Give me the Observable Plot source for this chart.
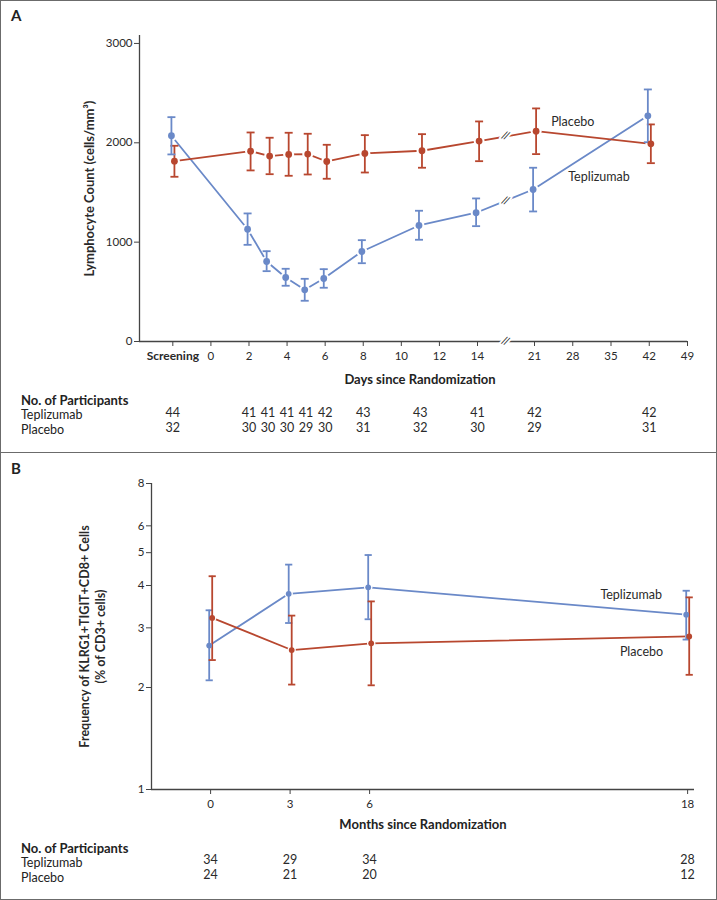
<!DOCTYPE html>
<html><head><meta charset="utf-8">
<script src="https://cdn.jsdelivr.net/npm/d3@7"></script>
<script src="https://cdn.jsdelivr.net/npm/@observablehq/plot@0.6"></script>
<style>
body{margin:0;background:#fff;font-family:Lato,"Open Sans",sans-serif;color:#222}
#wrap{position:relative;width:717px;height:900px;overflow:hidden}
.box{position:absolute;left:0;width:717px;box-sizing:border-box;border:1.5px solid #6b6b6b}
#boxA{top:0;height:453px}
#boxB{top:451.5px;height:448px}
.t{position:absolute;line-height:1;white-space:nowrap}
.tag{font-weight:bold;font-size:15px}
.hdr{font-weight:bold;font-size:13px}
.row{font-size:12.5px}
.xt{font-weight:bold;font-size:13px;transform:translateX(-50%)}
.plot{position:absolute;left:0}
</style>
</head><body>
<div id="wrap">
  <div class="box" id="boxA"></div>
  <div class="box" id="boxB"></div>
  <div class="t tag" style="left:11px;top:7.5px">A</div>
  <div class="t tag" style="left:11px;top:460.5px">B</div>
  <div class="t xt" style="left:420px;top:373px">Days since Randomization</div>
  <div class="t hdr" style="left:21px;top:394px">No. of Participants</div>
  <div class="t row" style="left:21px;top:409px">Teplizumab</div>
  <div class="t row" style="left:21px;top:424px">Placebo</div>
  <div class="t xt" style="left:423px;top:818px">Months since Randomization</div>
  <div class="t hdr" style="left:21px;top:842px">No. of Participants</div>
  <div class="t row" style="left:21px;top:856.5px">Teplizumab</div>
  <div class="t row" style="left:21px;top:871.5px">Placebo</div>
  <div id="plotA" class="plot" style="top:0"></div>
  <div id="plotB" class="plot" style="top:452px"></div>
</div>
<script>
// ---------- Panel A data ----------
const visitsA = ["Screening", "2", "3", "4", "5", "6", "8", "11", "14", "21", "42"];
const tepMeanA  = [2071, 1130, 805, 644, 520, 634, 906, 1168, 1296, 1530, 2272];
const tepLowA   = [1883, 973, 708, 561, 410, 541, 788, 1024, 1161, 1309, 2006];
const tepHighA  = [2258, 1289, 909, 732, 631, 728, 1020, 1316, 1440, 1749, 2537];
const plaMeanA  = [1815, 1916, 1866, 1883, 1886, 1812, 1893, 1920, 2017, 2117, 1990];
const plaLowA   = [1658, 1722, 1684, 1668, 1681, 1638, 1701, 1749, 1815, 1886, 1795];
const plaHighA  = [1970, 2104, 2051, 2101, 2091, 1980, 2077, 2087, 2215, 2346, 2185];
const tepNA = [44, 41, 41, 41, 41, 42, 43, 43, 41, 42, 42];
const plaNA = [32, 30, 30, 30, 29, 30, 31, 32, 30, 29, 31];
const xTicksA = [0, 2, 4, 6, 8, 10, 12, 14, 21, 28, 35, 42, 49];
const yTicksA = [0, 1000, 2000, 3000];
const seriesNames = ["Teplizumab", "Placebo"];
const labelXA = [32.8, 28];
const labelYA = [1651, 2205];

// ---------- Panel B data ----------
const monthsB = [0, 3, 6, 18];
const tepMeanB = [2.66, 3.78, 3.95, 3.28];
const tepLowB  = [2.10, 3.10, 3.18, 2.77];
const tepHighB = [3.38, 4.61, 4.92, 3.86];
const plaMeanB = [3.21, 2.58, 2.70, 2.83];
const plaLowB  = [2.41, 2.04, 2.03, 2.18];
const plaHighB = [4.26, 3.26, 3.59, 3.69];
const tepNB = [34, 29, 34, 28];
const plaNB = [24, 21, 20, 12];
const yTicksB = [1, 2, 3, 4, 5, 6, 8];
const labelXB = [15.87, 16.26];
const labelYB = [3.74, 2.54];

// ---------- styling ----------
const colors = {Teplizumab: "#6a89c8", Placebo: "#b8472f"};
const offsets = {Teplizumab: -1.4, Placebo: 1.6};
const ink = "#2a2a2a";
const axisInk = "#444";
const font = "Lato, 'Open Sans', sans-serif";

const SCREENING = -2; // position of the screening visit on the day axis
const dayPos = v => v === "Screening" ? SCREENING : +v;

function build(xs, means, lows, highs, name) {
  return xs.map((x, i) => ({x, mean: means[i], lo: lows[i], hi: highs[i], series: name}));
}

const capSymbol = {
  draw(ctx, size) { const r = Math.sqrt(size / Math.PI); ctx.moveTo(-r, 0); ctx.lineTo(r, 0); }
};

function seriesMarks(rows, name, opts) {
  const c = colors[name], dx = offsets[name];
  return {
    line: Plot.line(rows, {x: "x", y: "mean", stroke: c, strokeWidth: opts.lw, dx}),
    halo: Plot.dot(rows, {x: "x", y: "mean", r: opts.halo, fill: "white", stroke: "none", dx}),
    bars: [
      Plot.ruleX(rows, {x: "x", y1: "lo", y2: "hi", stroke: c, strokeWidth: opts.lw, dx}),
      Plot.dot(rows, {x: "x", y: "lo", symbol: capSymbol, r: opts.cap, stroke: c, fill: "none", strokeWidth: opts.lw, dx}),
      Plot.dot(rows, {x: "x", y: "hi", symbol: capSymbol, r: opts.cap, stroke: c, fill: "none", strokeWidth: opts.lw, dx})
    ],
    dot: Plot.dot(rows, {x: "x", y: "mean", r: opts.r, fill: c, stroke: "none", dx})
  };
}

// ---------- Panel A ----------
const xA = visitsA.map(dayPos);
const tepA = build(xA, tepMeanA, tepLowA, tepHighA, "Teplizumab");
const plaA = build(xA, plaMeanA, plaLowA, plaHighA, "Placebo");
const optsA = {lw: 1.8, halo: 5.5, cap: 4, r: 3.4};
const sA = [seriesMarks(tepA, "Teplizumab", optsA), seriesMarks(plaA, "Placebo", optsA)];

// break marks between day 14 and day 21
const i14 = visitsA.indexOf("14"), i21 = visitsA.indexOf("21");
const breakX = (dayPos(visitsA[i14]) + dayPos(visitsA[i21])) / 2;
const breaks = [
  {y: (tepMeanA[i14] + tepMeanA[i21]) / 2, dx: offsets.Teplizumab},
  {y: (plaMeanA[i14] + plaMeanA[i21]) / 2, dx: offsets.Placebo},
  {y: 0, dx: 0}
];

const plotA = Plot.plot({
  width: 717, height: 450,
  marginLeft: 139, marginRight: 30, marginTop: 35, marginBottom: 109,
  style: {fontFamily: font, fontSize: "11.5px", color: ink, background: "transparent", overflow: "visible"},
  x: {type: "linear", domain: [-3.75, 14, 21, 49], range: [139, 477, 534, 687], label: null},
  y: {domain: [0, 3080], label: null},
  marks: [
    Plot.ruleY([0], {stroke: axisInk, strokeWidth: 1.3}),
    Plot.ruleX([-3.75], {stroke: axisInk, strokeWidth: 1.3}),
    Plot.axisX({ticks: xTicksA, tickSize: 5, tickPadding: 5, tickFormat: d => String(d), stroke: axisInk, fill: ink, label: null, fontSize: 11.5}),
    Plot.axisX({ticks: [SCREENING], tickSize: 5, tickPadding: 5, tickFormat: () => "Screening", stroke: axisInk, fill: ink, label: null, fontWeight: "bold", fontSize: 12}),
    Plot.axisY({ticks: yTicksA, tickSize: 5, tickPadding: 2, tickFormat: d => String(d), stroke: axisInk, fill: ink, label: null, fontSize: 11.5}),
    Plot.text(["Lymphocyte Count (cells/mm³)"], {frameAnchor: "left", textAnchor: "middle", lineAnchor: "middle", text: d => d, rotate: -90, dx: -50, fontWeight: "bold", fontSize: 13, fill: ink}),
    sA[0].line, sA[1].line,
    Plot.text(breaks, {x: () => breakX, y: "y", dx: "dx", text: () => "//", fill: "#222", stroke: "white", strokeWidth: 4, fontSize: 11, rotate: 20}),
    sA[0].halo, sA[1].halo,
    ...sA[1].bars, ...sA[0].bars,
    sA[1].dot, sA[0].dot,
    Plot.text(seriesNames, {x: (d, i) => labelXA[i], y: (d, i) => labelYA[i], text: d => d, fontSize: 12.5, fill: ink}),
    Plot.text(xA, {x: d => d, frameAnchor: "bottom", dy: 75, text: (d, i) => String(tepNA[i]), fontSize: 12.5, fill: ink}),
    Plot.text(xA, {x: d => d, frameAnchor: "bottom", dy: 90, text: (d, i) => String(plaNA[i]), fontSize: 12.5, fill: ink})
  ]
});
document.getElementById("plotA").appendChild(plotA);

// ---------- Panel B ----------
const tepB = build(monthsB, tepMeanB, tepLowB, tepHighB, "Teplizumab");
const plaB = build(monthsB, plaMeanB, plaLowB, plaHighB, "Placebo");
const optsB = {lw: 1.8, halo: 4.2, cap: 3.6, r: 2.9};
const sB = [seriesMarks(tepB, "Teplizumab", optsB), seriesMarks(plaB, "Placebo", optsB)];

const plotB = Plot.plot({
  width: 717, height: 448,
  marginLeft: 151, marginRight: 23, marginTop: 31, marginBottom: 111,
  style: {fontFamily: font, fontSize: "11.5px", color: ink, background: "transparent", overflow: "visible"},
  x: {domain: [-2.23, 18.26], label: null},
  y: {type: "log", domain: [1, 8], label: null},
  marks: [
    Plot.ruleY([1], {stroke: axisInk, strokeWidth: 1.3}),
    Plot.ruleX([-2.23], {stroke: axisInk, strokeWidth: 1.3}),
    Plot.axisX({ticks: monthsB, tickSize: 5, tickPadding: 5, tickFormat: d => String(d), stroke: axisInk, fill: ink, label: null, fontSize: 11.5}),
    Plot.axisY({ticks: yTicksB, tickSize: 5, tickPadding: 2, tickFormat: d => String(d), stroke: axisInk, fill: ink, label: null, fontSize: 11.5}),
    Plot.text(["Frequency of KLRG1+TIGIT+CD8+ Cells\n(% of CD3+ cells)"], {frameAnchor: "left", textAnchor: "middle", lineAnchor: "middle", text: d => d, rotate: -90, dx: -59.5, lineHeight: 1.22, fontWeight: "bold", fontSize: 12.5, fill: ink}),
    sB[0].line, sB[1].line,
    sB[0].halo, sB[1].halo,
    ...sB[0].bars, ...sB[1].bars,
    sB[0].dot, sB[1].dot,
    Plot.text(seriesNames, {x: (d, i) => labelXB[i], y: (d, i) => labelYB[i], text: d => d, fontSize: 12.5, fill: ink}),
    Plot.text(monthsB, {x: d => d, frameAnchor: "bottom", dy: 74, text: (d, i) => String(tepNB[i]), fontSize: 12.5, fill: ink}),
    Plot.text(monthsB, {x: d => d, frameAnchor: "bottom", dy: 89, text: (d, i) => String(plaNB[i]), fontSize: 12.5, fill: ink})
  ]
});
document.getElementById("plotB").appendChild(plotB);
</script>
</body></html>
